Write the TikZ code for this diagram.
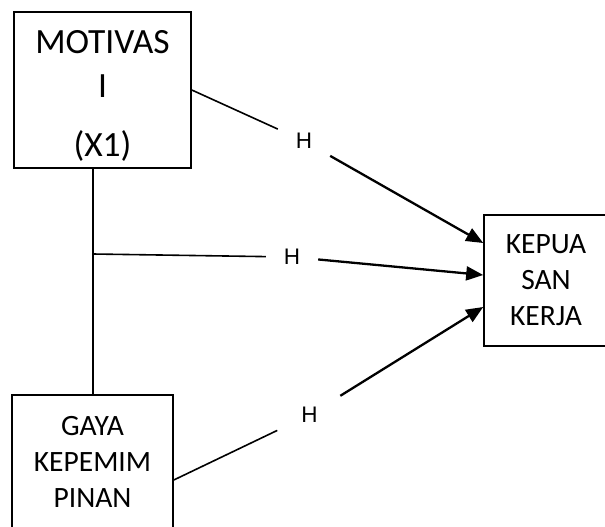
\documentclass[tikz,border=0pt]{standalone}
\usepackage{fontspec}
\setmainfont{Carlito}
\newfontfamily\hfont{Liberation Sans}
\usetikzlibrary{arrows.meta}
\begin{document}
\begin{tikzpicture}[x=1pt,y=-1pt,
    kotak/.style={draw,line width=1.6pt,align=center,inner sep=0pt},
    hlabel/.style={minimum height=38pt,inner sep=0pt,font=\hfont\fontsize{22.5}{27}\selectfont},
    garis/.style={line width=1.6pt},
    panah/.style={line width=2.3pt,-{Triangle[length=17pt,width=14pt]}}]
    \useasboundingbox (0,0) rectangle (605,527);
    \clip (0,0) rectangle (605,527);
    % kotak variabel
    \node[kotak,minimum width=177pt,minimum height=156pt,text height=138pt,
        font=\fontsize{35.5}{44}\selectfont] (motivasi) at (102.5,90) {MOTIVAS\\I\\[15pt](X1)};
    \node[kotak,minimum width=161pt,minimum height=133pt,
        font=\fontsize{29.5}{36}\selectfont] (gaya) at (92.5,461.5) {GAYA\\KEPEMIM\\PINAN};
    \node[kotak,minimum width=124pt,minimum height=131pt,
        font=\fontsize{29.5}{36}\selectfont] (kepuasan) at (546,280.5) {KEPUA\\SAN\\KERJA};
    % hipotesis
    \foreach \n/\x/\y/\w in {1/304/141/52, 2/292/257/52, 3/309.5/415/64} {
        \node[hlabel,minimum width=\w pt] (h\n) at (\x,\y) {H};
    }
    \coordinate (j) at (93,254);
    \coordinate (g3) at ([yshift=-18.5pt]gaya.east);
    \coordinate (in1) at ([yshift=37.5pt]kepuasan.west);
    \coordinate (in2) at ([yshift=5.5pt]kepuasan.west);
    \coordinate (in3) at ([yshift=-26.5pt]kepuasan.west);
    \draw[garis] (j |- motivasi.south) -- (j |- gaya.north);
    \draw[garis] (motivasi.east) -- (h1);
    \draw[garis] (j) -- (h2);
    \draw[garis] (g3) -- (h3);
    \foreach \n in {1,2,3} {
        \draw[panah] (h\n) -- (in\n);
    }
\end{tikzpicture}
\end{document}
